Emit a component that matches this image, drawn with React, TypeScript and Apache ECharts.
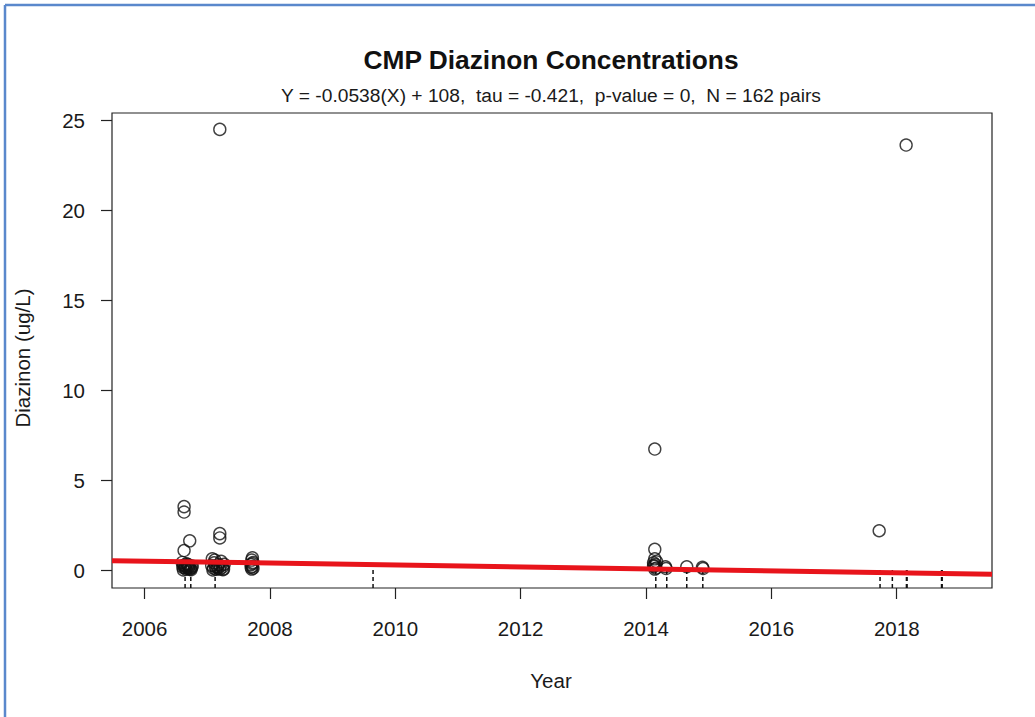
import React, { useEffect, useRef } from "react";
import * as echarts from "echarts";

// Observed concentrations (decimal year, ug/L)
const obsYear = [
  2006.63, 2006.63, 2006.72, 2006.63,
  2006.60, 2006.62, 2006.64, 2006.66, 2006.69, 2006.71, 2006.73, 2006.76, 2006.74, 2006.67, 2006.61, 2006.70,
  2006.62, 2006.65, 2006.68, 2006.72, 2006.75, 2006.64, 2006.70,
  2007.20, 2007.20, 2007.20,
  2007.08, 2007.12, 2007.07, 2007.10, 2007.14, 2007.18, 2007.22, 2007.24, 2007.27, 2007.20, 2007.26, 2007.16,
  2007.09, 2007.13, 2007.17, 2007.21, 2007.25, 2007.11,
  2007.72, 2007.71, 2007.73, 2007.70, 2007.72, 2007.73, 2007.71, 2007.72, 2007.70,
  2014.14, 2014.14, 2014.14, 2014.12, 2014.15, 2014.13, 2014.16, 2014.17, 2014.14, 2014.12,
  2014.31, 2014.32, 2014.65, 2014.90, 2014.91,
  2017.72, 2018.15,
];
const obsValue = [
  3.52, 3.22, 1.62, 1.08,
  0.42, 0.25, 0.12, 0.05, 0.30, 0.18, 0.08, 0.22, 0.02, 0.35, 0.15, 0.10,
  0.00, 0.20, 0.12, 0.04, 0.14, 0.28, 0.26,
  24.48, 2.02, 1.78,
  0.62, 0.55, 0.25, 0.10, 0.04, 0.30, 0.48, 0.15, 0.32, 0.05, 0.06, 0.20,
  0.00, 0.18, 0.10, 0.22, 0.02, 0.40,
  0.68, 0.55, 0.42, 0.30, 0.20, 0.10, 0.05, 0.36, 0.15,
  6.72, 1.15, 0.62, 0.40, 0.30, 0.20, 0.10, 0.45, 0.05, 0.25,
  0.18, 0.08, 0.18, 0.15, 0.08,
  2.18, 23.61,
];

// Non-detect rug marks (decimal year)
const rugYear = [
  2006.646, 2006.737, 2007.125, 2009.645,
  2014.156, 2014.331, 2014.65, 2014.906,
  2017.734, 2017.93, 2018.155, 2018.165, 2018.715, 2018.725,
];

// Trend line end points
const trendYear = [2005.48, 2019.52];
const trendValue = [0.52, -0.235];

const xTicks = [2006, 2008, 2010, 2012, 2014, 2016, 2018];
const yTicks = [0, 5, 10, 15, 20, 25];

const titleText = "CMP Diazinon Concentrations";
const subText = "Y = -0.0538(X) + 108,  tau = -0.421,  p-value = 0,  N = 162 pairs";
const xName = "Year";
const yName = "Diazinon (ug/L)";

export default function App() {
  const ref = useRef<HTMLDivElement>(null);
  useEffect(() => {
    document.body.style.margin = "0";
    const chart = echarts.init(ref.current!, undefined, { renderer: "svg" });
    const font = "Liberation Sans, Arial, sans-serif";
    const txt = "#1a1a1a";
    chart.setOption({
      animation: false,
      backgroundColor: "#ffffff",
      textStyle: { fontFamily: font },
      grid: {
        left: 112,
        top: 113,
        right: 43,
        bottom: 129,
        show: true,
        borderColor: "#222",
        borderWidth: 1.2,
        backgroundColor: "transparent",
      },
      xAxis: {
        type: "value",
        min: 2005.48,
        max: 2019.52,
        axisLine: { show: false, onZero: false },
        splitLine: { show: false },
        axisTick: {
          show: true,
          inside: false,
          length: 11,
          customValues: xTicks,
          lineStyle: { color: "#222", width: 1.2 },
        },
        axisLabel: {
          customValues: xTicks,
          formatter: (v: number) => String(v),
          fontSize: 20.5,
          color: txt,
          margin: 30,
          fontFamily: font,
        },
      },
      yAxis: {
        type: "value",
        min: -1,
        max: 25.39,
        axisLine: { show: false, onZero: false },
        splitLine: { show: false },
        axisTick: {
          show: true,
          inside: false,
          length: 11,
          customValues: yTicks,
          lineStyle: { color: "#222", width: 1.2 },
        },
        axisLabel: {
          customValues: yTicks,
          formatter: (v: number) => String(v),
          fontSize: 20.5,
          color: txt,
          margin: 27,
          fontFamily: font,
        },
      },
      graphic: [
        {
          type: "line",
          shape: { x1: 5, y1: 5, x2: 1035, y2: 5 },
          style: { stroke: "#5a88cc", lineWidth: 2.5 },
        },
        {
          type: "line",
          shape: { x1: 5, y1: 5, x2: 5, y2: 717 },
          style: { stroke: "#5a88cc", lineWidth: 2.5 },
        },
        {
          type: "text",
          x: 551,
          y: 60,
          style: {
            text: titleText,
            fontSize: 26.3,
            fontWeight: "bold",
            fontFamily: font,
            fill: "#111",
            align: "center",
            verticalAlign: "middle",
          },
        },
        {
          type: "text",
          x: 551,
          y: 95,
          style: {
            text: subText,
            fontSize: 19.2,
            fontFamily: font,
            fill: txt,
            align: "center",
            verticalAlign: "middle",
          },
        },
        {
          type: "text",
          x: 551,
          y: 680,
          style: {
            text: xName,
            fontSize: 20.5,
            fontFamily: font,
            fill: txt,
            align: "center",
            verticalAlign: "middle",
          },
        },
        {
          type: "text",
          x: 22,
          y: 358,
          rotation: Math.PI / 2,
          style: {
            text: yName,
            fontSize: 20.5,
            fontFamily: font,
            fill: txt,
            align: "center",
            verticalAlign: "middle",
          },
        },
      ],
      series: [
        {
          type: "scatter",
          data: obsYear.map((x, i) => [x, obsValue[i]]),
          symbol: "circle",
          symbolSize: 12,
          itemStyle: { color: "rgba(0,0,0,0)", borderColor: "#111", borderWidth: 1.4 },
          z: 2,
        },
        {
          type: "custom",
          data: rugYear.map((x) => [x]),
          renderItem: (params: any, api: any) => {
            const p1 = api.coord([api.value(0), 0]);
            const p2 = api.coord([api.value(0), -1]);
            return {
              type: "line",
              shape: { x1: p1[0], y1: p1[1], x2: p2[0], y2: p2[1] },
              style: { stroke: "#111", lineWidth: 1.5, lineDash: [4, 3] },
            };
          },
          z: 3,
        },
        {
          type: "line",
          data: trendYear.map((x, i) => [x, trendValue[i]]),
          showSymbol: false,
          symbol: "none",
          lineStyle: { color: "#e8141b", width: 5 },
          z: 5,
        },
      ],
    });
    return () => chart.dispose();
  }, []);
  return (
    <div
      ref={ref}
      style={{ position: "fixed", left: 0, top: 0, width: 1035, height: 717 }}
    />
  );
}
